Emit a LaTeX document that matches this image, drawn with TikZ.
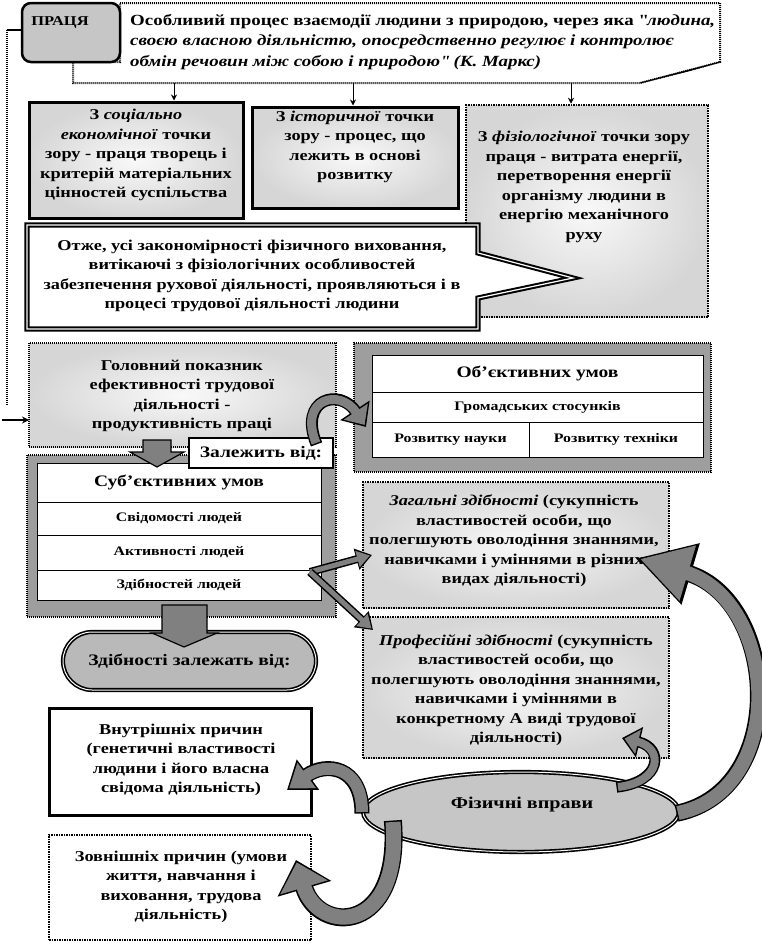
\documentclass[tikz,border=0pt]{standalone}
\usepackage{fontspec}
\setmainfont{Liberation Serif}[FakeStretch=1.22]
\usetikzlibrary{arrows.meta,shapes.geometric,calc}
\definecolor{mgray}{gray}{0.62}
\definecolor{agray}{gray}{0.50}
\tikzset{
  txt/.style={font=\bfseries\fontsize{15}{19.5}\selectfont, align=center, inner sep=0pt},
  smalltxt/.style={font=\bfseries\fontsize{13}{15}\selectfont, align=center, inner sep=0pt},
  headtxt/.style={font=\bfseries\fontsize{16}{18}\selectfont, inner sep=0pt},
  shadebox/.style={rectangle, inner sep=0pt, shading=radial, inner color=gray!5, outer color=gray!32},
  solidb/.style={draw=black, line width=3pt},
  dotb/.style={draw=black, line width=2.5pt, dash pattern=on 1.5pt off 1pt},
  thindot/.style={draw=black, line width=1.5pt, dash pattern=on 1pt off 1pt},
  tabrow/.style={rectangle, draw=black, line width=0.8pt, fill=white, inner sep=0pt},
  smallarr/.style={line width=1pt, -{Stealth[length=6pt,width=6pt]}},
}
\begin{document}
\begin{tikzpicture}[x=1pt,y=-1pt]
\useasboundingbox (0,0) rectangle (761,945);

% ---------- top callout ----------
\draw[thindot, line width=2pt, fill=white] (120,3) -- (720,3) -- (720,62) -- (640,83) -- (73,83) -- (73,62) -- (120,62) -- cycle;
\draw[line width=1pt, fill=agray] (640,83) -- (720,62) -- (688,71) -- cycle;
\node[font=\bfseries\fontsize{15.5}{20.5}\selectfont, align=left, inner sep=0pt, anchor=west] (def) at (130,42)
  {Особливий процес взаємодії людини з природою, через яка \textquotedbl\textit{людина,}\\
   \textit{своєю власною діяльністю, опосредственно регулює і контролює}\\
   \textit{обмін речовин між собою і природою\textquotedbl\ (К. Маркс)}};
\node[rectangle, rounded corners=9pt, draw=black, line width=2.5pt, fill=gray!45, minimum width=98pt, minimum height=59pt] (prac) at (71,32.5) {};
\node[font=\bfseries\fontsize{13.5}{15}\selectfont, inner sep=0pt] (practext) at (60,22) {ПРАЦЯ};

% ---------- left connector ----------
\coordinate (pw) at (22,30);
\coordinate (lc1) at (7,30);
\coordinate (lc2) at (7,405);
\coordinate (ltail) at (2,420);
\coordinate (ein) at (29,420);
\draw[line width=2pt] (pw) -- (lc1);
\draw[thindot, line width=2pt] (lc1) -- (lc2);
\draw[line width=1.5pt, -{Stealth[length=7pt,width=7pt]}] (ltail) -- (ein);

% ---------- row of three viewpoints ----------
\node[shadebox, solidb, minimum width=214pt, minimum height=116pt] (A) at (136,160) {};
\node[txt] (Atext) at (136,155) {З \textit{соціально}\\ \textit{економічної} точки\\ зору - праця творець і\\ критерій матеріальних\\ цінностей суспільства};
\node[shadebox, solidb, minimum width=206pt, minimum height=101pt] (B) at (355,157.5) {};
\node[txt] (Btext) at (355,147) {З \textit{історичної} точки\\ зору - процес, що\\ лежить в основі\\ розвитку};
\node[shadebox, dotb, minimum width=242pt, minimum height=212pt] (C) at (587,211) {};
\node[txt] (Ctext) at (584,187) {З \textit{фізіологічної} точки зору\\ праця - витрата енергії,\\ перетворення енергії\\ організму людини в\\ енергію механічного\\ руху};

\coordinate (a1) at (174,83);
\coordinate (a2) at (353,83);
\coordinate (a3) at (571,83);
\draw[smallarr] (a1) -- (A.north -| a1);
\draw[smallarr] (a2) -- (B.north -| a2);
\draw[smallarr] (a3) -- (C.north -| a3);

% ---------- conclusion callout ----------
\draw[draw=black, line width=2pt, double=white, double distance=1.2pt, fill=white]
  (27,225) -- (478,225) -- (478,253) -- (573,278) -- (478,298) -- (478,329) -- (27,329) -- cycle;
\node[txt] (Dtext) at (252,276) {Отже, усі закономірності фізичного виховання,\\ витікаючі з фізіологічних особливостей\\ забезпечення рухової діяльності, проявляються і в\\ процесі трудової діяльності людини};

% ---------- productivity ----------
\node[shadebox, thindot, minimum width=307pt, minimum height=104pt] (E) at (182.5,395) {};
\node[txt] (Etext) at (182,396) {Головний показник\\ ефективності трудової\\ діяльності -\\ продуктивність праці};

% objective conditions
\node[rectangle, fill=mgray, thindot, line width=2pt, minimum width=357pt, minimum height=129pt] (F) at (532.5,407.5) {};
\node[tabrow, minimum width=331pt, minimum height=37pt] (F1) at (537.5,373.5) {};
\node[tabrow, minimum width=331pt, minimum height=30pt] (F2) at (537.5,407) {};
\node[tabrow, minimum width=157pt, minimum height=35pt] (F3) at (450.5,439.5) {};
\node[tabrow, minimum width=174pt, minimum height=35pt] (F4) at (616,439.5) {};
\node[headtxt] (F1t) at (F1) {Об'єктивних умов};
\node[smalltxt] (F2t) at (F2) {Громадських стосунків};
\node[smalltxt] (F3t) at (F3) {Розвитку науки};
\node[smalltxt] (F4t) at (F4) {Розвитку техніки};

% subjective conditions
\node[rectangle, fill=mgray, thindot, line width=2pt, minimum width=309pt, minimum height=162pt] (G) at (181.5,536) {};
\node[tabrow, minimum width=284pt, minimum height=39pt] (G1) at (179,482.5) {};
\node[tabrow, minimum width=284pt, minimum height=33pt] (G2) at (179,518.5) {};
\node[tabrow, minimum width=284pt, minimum height=35pt] (G3) at (179,552.5) {};
\node[tabrow, minimum width=284pt, minimum height=30pt] (G4) at (179,585) {};
\node[headtxt] (G1t) at (G1) {Суб'єктивних умов};
\node[smalltxt] (G2t) at (G2) {Свідомості людей};
\node[smalltxt] (G3t) at (G3) {Активності людей};
\node[smalltxt] (G4t) at (G4) {Здібностей людей};

% block arrow E -> G
\draw[line width=1.2pt, fill=agray] (143,440) -- (171,440) -- (171,452) -- (184,452) -- (157,467) -- (130,452) -- (143,452) -- cycle;

% depends on
\node[rectangle, draw=black, line width=2.5pt, fill=white, minimum width=144pt, minimum height=30pt, font=\bfseries\fontsize{16}{18}\selectfont] (Z) at (261,453) {Залежить від:};

% curved arrow E -> F
\draw[draw=agray, line width=9pt, shorten >=2.5pt, -{Triangle[width=28pt,length=16pt]},
  preaction={draw=black, line width=12pt, shorten >=0pt, shorten <=-1.5pt, -{Triangle[width=34pt,length=20pt]}}]
  (316,443) .. controls (298,398) and (340,388) .. (366,427);

% abilities depend on
\node[rectangle, rounded corners=29pt, draw=black, line width=1.6pt, double=white, double distance=1pt, fill=gray!55, minimum width=253pt, minimum height=58pt, font=\bfseries\fontsize{16}{18}\selectfont] (H) at (189.5,661) {Здібності залежать від:};
\draw[line width=1.2pt, fill=agray] (162,605) -- (207,605) -- (207,633) -- (217,633) -- (184,647) -- (152,633) -- (162,633) -- cycle;

% general / professional abilities
\node[shadebox, dotb, minimum width=306pt, minimum height=126pt] (I) at (516,545) {};
\node[txt] (Itext) at (514,541) {\textit{Загальні здібності} (сукупність\\ властивостей особи, що\\ полегшують оволодіння знаннями,\\ навичками і уміннями в різних\\ видах діяльності)};
\node[shadebox, dotb, minimum width=306pt, minimum height=141pt] (J) at (516,687.5) {};
\node[txt] (Jtext) at (516,690) {\textit{Професійні здібності} (сукупність\\ властивостей особи, що\\ полегшують оволодіння знаннями,\\ навичками і уміннями в\\ конкретному А виді трудової\\ діяльності)};

% zigzag arrows from G4
\coordinate (zz) at (310,572);
\coordinate (zi) at (372,555);
\coordinate (zj) at (373,630);
\foreach \t in {zi,zj}{
\draw[draw=agray, line width=5pt, shorten >=2pt, -{Triangle[width=16pt,length=13pt]},
  preaction={draw=black, line width=8pt, shorten >=0pt, -{Triangle[width=21pt,length=16pt]}}]
  (zz) -- (\t);
}

% causes
\node[rectangle, solidb, fill=white, minimum width=262pt, minimum height=107pt] (K) at (180,761.5) {};
\node[txt] (Ktext) at (181,760) {Внутрішніх причин\\ (генетичні властивості\\ людини і його власна\\ свідома діяльність)};
\node[rectangle, dotb, fill=white, minimum width=262pt, minimum height=105pt] (L) at (180,887.5) {};
\node[txt] (Ltext) at (181,887) {Зовнішніх причин (умови\\ життя, навчання і\\ виховання, трудова\\ діяльність)};

% physical exercises
\node[ellipse, draw=black, line width=1.6pt, double=white, double distance=1pt, fill=gray!45, minimum width=316pt, minimum height=80pt] (M) at (521,812) {};
\node[font=\bfseries\fontsize{16.5}{18}\selectfont, inner sep=0pt] (Mtext) at (522,805) {Фізичні вправи};

% curved arrows from the ellipse
\draw[draw=agray, line width=12pt, shorten >=2.5pt, -{Triangle[width=30pt,length=22pt]},
  preaction={draw=black, line width=15pt, shorten >=0pt, shorten <=-1.5pt, -{Triangle[width=36pt,length=26pt]}}]
  (362,812) .. controls (362,765) and (325,762) .. (287,790);
\draw[draw=agray, line width=15pt, shorten >=2.5pt, -{Triangle[width=48pt,length=26pt]},
  preaction={draw=black, line width=18pt, shorten >=0pt, shorten <=-1.5pt, -{Triangle[width=54pt,length=30pt]}}]
  (393,822) .. controls (402,935) and (318,935) .. (296,860);
\draw[draw=agray, line width=8pt, shorten >=2.5pt, -{Triangle[width=24pt,length=14pt]},
  preaction={draw=black, line width=11pt, shorten >=0pt, shorten <=-1.5pt, -{Triangle[width=30pt,length=18pt]}}]
  (618,787) .. controls (662,782) and (664,748) .. (622,738);
\draw[draw=agray, line width=14pt, shorten >=3pt, -{Triangle[width=54pt,length=50pt]},
  preaction={draw=black, line width=17pt, shorten >=0pt, shorten <=-1.5pt, -{Triangle[width=60pt,length=56pt]}}]
  (678,813) .. controls (790,790) and (778,600) .. (637,558);
\end{tikzpicture}
\end{document}
